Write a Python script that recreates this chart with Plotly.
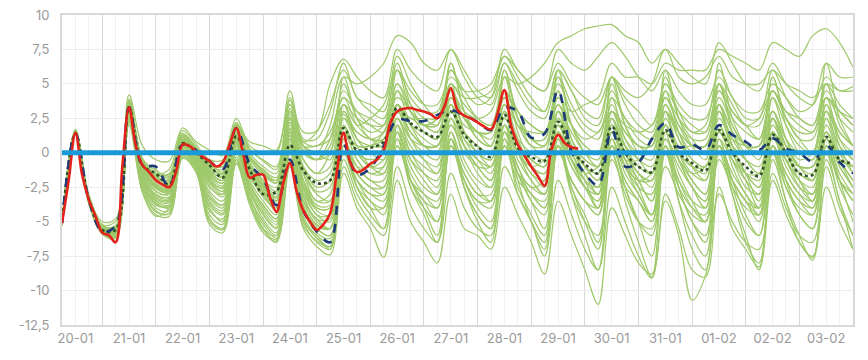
import plotly.graph_objects as go
import pandas as pd

START = "2025-01-20 06:00"
END = "2025-02-04 00:00"

# ---------------- data ----------------
# red (3-hourly, from 20-01 06:00)
red = [-5.1, -2.0, 1.45, -1.6, -3.4, -4.6, -5.8, -6.0, -6.5, -1.0,
       3.3, 0.5, -0.9, -1.4, -2.0, -2.3, -2.5, -1.4, 0.6, 0.5,
       0.1, -0.3, -0.6, -1.0, -0.7, 0.6, 1.8, 0.0, -1.8, -1.6,
       -1.6, -3.2, -4.3, -2.2, -0.75, -2.8, -4.2, -5.0, -5.6, -5.2,
       -4.4, -1.4, 1.45, -0.7, -1.4, -1.2, -0.8, -0.5, 0.2, 2.2,
       3.0, 3.2, 3.25, 3.1, 3.0, 2.8, 2.5, 3.3, 4.7, 3.1,
       2.7, 2.5, 2.2, 1.9, 1.7, 2.9, 4.55, 2.0, 0.6, -0.2,
       -1.0, -1.7, -2.4, 0.2, 1.3, 0.7, 0.4, 0.3]

# navy dashed (6-hourly)
navy = [-5.1, 1.4, -3.4, -5.7, -5.3, 3.3, -0.9, -1.0, -2.5, 0.6,
        0.2, -0.6, -1.2, 1.8, -0.8, -1.9, -3.8, -0.5, -4.2, -5.7,
        -6.5, 0.6, -1.6, -1.1, 0.5, 2.4, 2.3, 2.3, 2.75, 3.1,
        2.7, 2.25, 1.65, 3.25, 3.0, 1.1, 1.4, 4.55, 0.1, -1.5,
        -2.35, 1.65, -1.0, -0.7, 1.0, 2.15, 0.4, 0.6, 0.2, 2.0,
        1.3, 0.8, 0.2, 1.05, 0.3, 0.0, -0.65, 0.55, -0.7, -1.5]

# dark green dotted (6-hourly)
dotted = [-5.1, 1.4, -3.4, -5.6, -5.6, 3.3, -0.9, -1.5, -2.3, 0.7,
          0.0, -0.9, -1.8, 1.2, -1.2, -3.0, -2.8, 0.55, -1.3, -2.2,
          -2.0, 1.8, 0.2, 0.35, 0.8, 3.25, 2.15, 1.5, 1.15, 3.0,
          1.3, 0.45, -0.3, 2.75, 0.35, -0.3, -0.6, 2.25, 0.2, -0.8,
          -1.5, 1.9, 0.0, -1.0, -1.4, 1.65, 0.0, -0.75, -1.3, 1.65,
          0.0, -1.0, -1.7, 1.3, 0.0, -1.5, -1.6, 1.15, -0.5, -0.75]

# baseline
zero_line = [0, 0]

# ensemble members (6-hourly)
m01 = [-5.2,1.5,-3.5,-5.8, -6.1,2.2,-2.8,-4.5, -4.6,-0.4,-1.4,-5.2, -5.8,-0.8,-3.8,-5.8, -6.4,-1.0,-5.5,-6.8, -7.4,-1.5,-4.0,-5.5, -7.6,-2.0,-5.0,-6.5, -8.0,-3.0,-5.5,-6.0, -7.0,-2.5,-4.5,-6.5, -8.8,-3.5,-6.0,-8.5, -11.0,-4.0,-6.0,-8.0, -8.8,-3.0,-5.5,-8.5, -9.0,-2.5,-5.5,-7.0, -8.3,-2.0,-4.5,-6.5, -7.6,-2.5,-5.0,-7.0]
m02 = [-5.1,1.4,-3.6,-5.6, -5.9,2.6,-2.5,-4.2, -4.4,-0.2,-1.2,-4.8, -5.5,-0.3,-3.2,-5.0, -6.0,0.2,-4.8,-6.2, -6.8,-1.0,-3.5,-5.0, -6.0,-1.0,-3.8,-5.5, -6.5,-1.5,-4.0,-5.5, -6.0,-1.0,-3.0,-5.0, -7.5,-2.0,-4.5,-7.0, -8.5,-2.5,-5.0,-7.5, -9.1,-3.5,-6.0,-10.7, -8.9,-3.0,-5.0,-6.5, -7.0,-1.5,-4.0,-6.0, -6.5,-1.0,-4.0,-6.0]
m03 = [-5.2,1.6,-3.4,-5.5, -5.7,3.0,-2.0,-3.5, -3.8,0.2,-0.8,-4.2, -4.8,0.5,-2.8,-4.5, -5.5,1.0,-4.2,-5.8, -6.2,0.5,-2.5,-4.0, -4.0,1.0,-2.0,-3.5, -4.0,0.5,-2.0,-3.5, -3.5,1.0,-1.5,-3.0, -4.0,0.5,-2.0,-3.5, -4.5,0.5,-2.0,-3.5, -5.0,0.0,-2.5,-4.0, -4.5,0.5,-2.0,-3.5, -4.0,0.5,-1.5,-3.0, -3.5,1.0,-1.5,-3.0]
m04 = [-5.2,1.5,-3.5,-5.4, -5.6,3.4,-1.0,-2.2, -2.6,0.7,-0.3,-1.8, -2.4,1.0,-1.2,-2.5, -3.5,2.0,-1.5,-3.5, -3.0,2.0,0.0,-0.5, 0.0,3.0,1.5,0.5, 0.5,3.5,1.0,0.0, -1.0,3.0,0.5,-0.5, -1.0,2.5,0.0,-1.5, -2.5,2.0,0.0,-1.5, -2.0,2.0,0.0,-1.0, -1.5,2.0,0.0,-1.5, -2.0,1.5,0.0,-1.5, -2.0,1.5,-0.5,-1.0]
m05 = [-5.1,1.6,-3.2,-5.2, -5.0,3.8,-0.5,-1.5, -1.8,1.2,0.2,-1.0, -1.5,1.8,-0.5,-1.5, -2.0,3.0,0.5,0.0, 2.0,5.5,5.0,5.5, 6.5,8.5,8.0,6.5, 6.0,7.5,6.0,4.5, 4.0,6.5,5.0,3.5, 3.0,6.0,4.5,3.0, 2.5,5.5,4.0,3.0, 2.0,5.0,3.5,2.5, 2.5,5.0,3.5,2.0, 2.0,4.5,3.0,2.0, 1.5,4.0,3.0,2.0]
m06 = [-5.2,1.5,-3.4,-5.3, -5.3,3.6,-0.8,-1.8, -2.0,1.0,0.0,-1.2, -1.8,1.6,-0.2,-1.2, -1.8,2.8,0.5,0.5, 1.0,4.0,3.0,2.5, 2.0,5.0,3.5,2.5, 2.0,4.5,3.0,2.5, 3.0,5.5,5.0,5.5, 6.5,8.0,8.5,9.0, 9.2,9.3,8.5,8.0, 6.5,7.5,5.5,5.0, 5.5,7.0,5.5,5.0, 5.0,6.0,5.0,4.5, 4.0,5.0,4.5,4.5]
m07 = [-5.2,1.4,-3.6,-5.5, -5.5,3.2,-1.2,-2.5, -2.8,0.5,-0.5,-2.0, -2.5,0.8,-1.5,-2.8, -3.5,1.5,-2.0,-3.5, -3.5,1.5,0.5,0.5, 1.0,4.5,3.0,2.0, 1.5,4.0,2.5,1.0, 0.5,3.5,2.0,1.5, 1.5,4.0,3.0,3.5, 4.0,6.5,5.5,5.5, 5.0,6.5,6.0,6.0, 6.0,7.5,7.0,6.5, 6.0,8.0,7.5,7.0, 8.5,9.0,8.0,6.2]
m08 = [-5.0,1.7,-3.0,-5.0, -4.8,4.2,0.5,-0.5, -0.6,1.8,0.8,0.2, -0.2,2.5,0.5,0.0, 0.0,4.5,1.0,1.0, 3.0,6.5,4.0,3.5, 3.0,7.0,5.0,3.5, 2.5,6.0,4.0,2.5, 2.0,5.5,3.0,2.0, 1.5,5.0,3.0,1.5, 1.0,4.5,2.5,1.5, 1.0,4.5,3.0,2.0, 1.5,5.0,3.0,2.0, 1.0,4.5,2.5,1.5, 1.5,4.5,3.0,2.0]
m09 = [-5.3,1.3,-3.7,-5.9, -6.2,2.0,-2.9,-4.6, -4.0,0.5,-1.0,-4.0, -5.0,0.2,-3.0,-5.5, -6.5,0.5,-5.0,-6.0, -7.0,1.0,-2.5,-4.0, -5.5,2.0,-2.0,-4.0, -6.0,1.5,-2.0,-4.0, -5.0,2.0,-1.5,-3.5, -5.5,1.5,-2.5,-4.5, -6.5,1.0,-2.5,-5.0, -6.0,1.5,-2.5,-5.0, -6.5,1.0,-2.5,-5.0, -6.0,1.5,-2.0,-4.5, -5.5,1.0,-2.0,-5.0]
m10 = [-5.2,1.5,-3.5,-5.6, -5.8,3.0,-1.5,-3.0, -3.2,0.4,-0.6,-2.8, -3.5,0.8,-2.0,-3.5, -4.5,1.5,-2.5,-4.5, -4.5,2.5,0.5,-1.0, -1.5,3.5,1.0,-0.5, -1.5,3.5,0.5,-1.0, -2.0,3.0,0.0,-1.5, -2.5,3.0,0.0,-2.0, -4.0,2.5,-0.5,-2.5, -4.5,3.0,-0.5,-2.5, -4.0,3.0,0.0,-2.0, -4.0,2.5,-0.5,-2.0, -3.5,2.5,-0.5,-2.5]
m11 = [-5.1,1.5,-3.3,-5.3, -5.4,3.8,-0.6,-1.6, -1.5,1.4,0.4,-0.8, -1.0,2.2,0.2,-0.5, -1.0,4.0,0.5,-0.5, 0.5,5.0,2.5,1.5, 2.0,6.5,3.5,2.0, 2.5,6.5,3.0,1.5, 1.5,6.0,2.5,1.0, 1.0,5.5,2.0,0.5, 0.0,5.0,2.0,0.5, 0.5,5.5,2.5,1.0, 0.0,5.0,2.0,0.5, 0.5,5.5,2.5,1.0, 0.0,5.0,2.0,0.5]
m12 = [-5.2,1.6,-3.5,-5.5, -5.5,3.2,-1.2,-2.8, -3.0,0.6,-0.4,-2.2, -3.0,1.2,-1.6,-3.2, -4.0,1.8,-2.8,-4.5, -5.0,1.0,-1.5,-2.5, -3.0,2.0,-0.5,-2.0, -3.0,1.5,-1.0,-2.5, -3.5,0.5,-2.0,-3.0, -4.0,0.0,-2.0,-3.5, -4.5,-0.5,-2.5,-3.5, -5.0,-1.0,-3.0,-4.5, -5.0,-0.5,-2.5,-4.0, -4.5,0.0,-2.0,-3.5, -4.0,0.0,-2.0,-3.0]
m13 = [-5.2,1.4,-3.5,-5.4, -5.7,3.3,-1.0,-2.0, -2.2,0.9,-0.1,-1.5, -2.0,1.4,-0.8,-2.0, -2.5,2.5,-0.5,-1.5, 0.0,3.5,2.0,2.5, 3.5,6.0,4.5,3.5, 3.5,5.5,4.5,4.5, 5.0,7.0,6.0,5.0, 4.5,6.5,5.0,4.0, 3.5,5.5,4.5,4.0, 5.0,7.5,6.5,5.5, 5.0,8.0,6.5,5.0, 4.5,6.5,5.0,4.0, 3.5,5.5,4.5,4.8]
m14 = [-5.3,1.4,-3.6,-5.7, -6.0,2.5,-2.2,-3.8, -3.8,0.0,-1.0,-3.8, -4.5,0.0,-2.8,-4.8, -5.8,0.8,-4.0,-5.5, -6.0,0.0,-2.0,-3.0, -3.5,0.5,-2.0,-3.0, -3.5,0.5,-1.5,-3.0, -3.0,0.5,-1.5,-2.5, -3.0,1.0,-1.0,-2.5, -3.0,1.5,-0.5,-2.0, -3.5,1.0,-1.0,-2.5, -3.5,1.5,-0.5,-2.0, -3.0,1.5,-0.5,-2.5, -3.5,1.0,-1.0,-2.5]
m15 = [-5.2,1.5,-3.4,-5.5, -5.6,3.5,-0.8,-2.5, -2.8,0.8,-0.2,-2.0, -2.8,1.5,-1.0,-2.8, -3.8,2.5,-1.5,-3.0, -3.5,3.5,1.0,0.0, -0.5,4.5,2.0,0.5, 0.0,5.0,1.5,0.0, -0.5,5.5,1.5,-0.5, -1.0,4.5,1.0,-1.0, -2.0,4.0,1.0,-0.5, -1.5,4.5,1.5,-0.5, -1.0,5.0,1.5,-0.5, -1.5,4.0,1.0,-1.0, -1.5,4.0,1.0,-0.5]
m16 = [-5.2,1.5,-3.5,-5.6, -5.9,2.8,-1.8,-3.3, -3.5,0.3,-0.8,-3.3, -4.0,0.5,-2.3,-4.0, -5.0,1.2,-3.5,-5.2, -5.5,0.5,-1.0,-2.0, -2.0,2.5,0.0,-1.5, -2.5,2.5,-0.5,-2.0, -2.5,2.0,-0.5,-2.0, -3.0,1.5,-1.0,-2.5, -3.5,1.5,-1.0,-3.0, -4.5,0.5,-2.0,-4.0, -5.0,0.5,-2.0,-3.5, -5.0,0.0,-2.5,-4.0, -4.5,0.5,-2.0,-3.5]
m17 = [-5.1,1.6,-3.3,-5.3, -5.3,3.7,-0.6,-1.5, -1.2,1.6,0.6,-0.5, -0.5,2.0,0.8,0.5, 0.2,3.5,1.5,1.6, 5.0,6.8,5.5,4.5, 4.0,7.5,6.0,5.0, 4.5,7.5,5.5,4.0, 3.5,6.5,4.5,3.0, 2.5,5.5,3.5,2.0, 1.5,4.0,2.5,1.0, 0.5,4.0,2.0,0.5, 0.5,3.5,1.5,0.0, 0.0,3.0,1.0,-0.5, 0.0,3.0,1.5,0.5]
m18 = [-5.2,1.5,-3.5,-5.5, -5.5,3.3,-0.9,-1.2, -2.4,0.6,0.0,-0.8, -1.4,1.7,-0.8,-2.0, -3.5,1.0,-3.5,-4.8, -5.5,1.0,-1.0,-1.0, 0.5,3.0,2.5,2.0, 2.5,4.0,2.5,1.5, 1.5,4.0,3.0,1.0, 1.0,4.5,0.5,-1.0, -2.0,2.0,-0.5,-0.5, 1.0,3.0,0.5,0.5, 0.5,3.0,1.0,0.5, 0.5,2.5,0.5,0.0, -0.5,1.5,-0.5,-1.0]
m19 = [-5.3,1.4,-3.6,-5.6, -6.0,2.7,-2.0,-3.6, -4.0,-0.2,-1.1,-4.5, -5.2,-0.5,-3.3,-5.2, -6.2,0.3,-4.6,-6.0, -6.5,-0.5,-3.0,-4.5, -5.5,1.5,-2.5,-4.5, -6.5,1.0,-2.5,-5.0, -6.5,1.5,-2.0,-5.0, -7.0,1.0,-3.0,-6.0, -8.5,0.0,-3.5,-6.5, -9.0,0.5,-3.5,-7.0, -8.5,0.5,-3.0,-6.5, -8.0,0.0,-3.5,-6.5, -7.5,0.0,-3.5,-6.0]
m20 = [-5.2,1.5,-3.4,-5.4, -5.5,3.4,-0.7,-1.9, -1.9,1.1,0.1,-1.3, -1.7,1.9,-0.4,-1.6, -2.2,3.2,0.0,-0.5, 1.0,4.5,3.0,2.0, 1.5,5.0,3.0,2.0, 2.0,5.0,4.0,4.0, 4.5,7.0,5.5,4.0, 3.0,6.0,4.5,2.5, 2.0,5.5,3.5,2.0, 1.5,5.0,3.0,1.5, 2.0,6.0,4.0,2.5, 2.5,6.0,4.0,2.5, 2.0,5.0,3.5,2.5]
m21 = [-5.2,1.5,-3.5,-5.7, -6.0,2.4,-2.4,-4.0, -4.2,-0.3,-1.3,-4.8, -5.5,-0.5,-3.5,-5.5, -6.0,0.0,-5.0,-6.5, -7.0,0.0,-2.0,-3.0, -3.0,1.0,-1.5,-3.0, -4.0,1.0,-2.0,-3.5, -4.0,1.5,-1.0,-3.0, -3.5,2.0,-0.5,-2.5, -4.0,1.0,-1.5,-3.0, -4.5,0.0,-2.0,-3.5, -4.0,0.5,-1.5,-3.0, -4.5,0.5,-1.5,-3.0, -4.0,0.0,-2.0,-3.5]
m22 = [-5.2,1.5,-3.5,-5.5, -5.6,3.2,-1.1,-2.3, -2.7,0.7,-0.2,-1.9, -2.6,1.1,-1.3,-2.6, -3.8,1.7,-2.0,-4.0, -4.0,1.5,0.5,0.5, 1.5,4.0,3.0,2.0, 2.0,4.5,2.5,1.5, 0.5,4.0,2.0,0.5, 0.5,3.5,1.0,-0.5, -1.0,3.0,1.0,0.0, 0.0,3.0,1.5,0.5, 0.5,3.5,1.5,0.5, 0.0,3.0,1.0,0.0, 0.0,3.0,1.0,0.0]
m23 = [-5.3,1.3,-3.7,-5.8, -6.1,2.3,-2.6,-4.3, -4.4,-0.4,-1.4,-5.0, -5.6,-0.7,-3.6,-5.6, -6.3,-0.5,-5.3,-6.4, -6.8,0.0,-2.5,-3.5, -4.5,0.5,-2.0,-3.5, -5.0,0.5,-2.5,-4.5, -5.5,0.5,-2.5,-4.5, -6.0,0.5,-2.5,-5.0, -7.0,0.5,-2.5,-5.0, -7.5,0.0,-3.5,-6.0, -7.5,0.0,-3.0,-6.0, -8.5,-0.5,-3.5,-6.0, -7.8,-0.5,-3.5,-7.0]
m24 = [-5.1,1.6,-3.3,-5.3, -5.4,3.9,-0.4,-1.3, -1.6,1.3,0.3,-0.9, -1.2,2.1,0.0,-1.0, -1.5,3.8,0.5,0.0, -0.5,5.5,2.5,1.0, 1.0,6.0,3.0,1.5, 1.0,6.5,3.0,1.0, 0.5,6.0,2.5,0.5, 0.0,6.0,2.0,0.0, -1.0,5.5,2.0,0.0, -0.5,6.0,2.5,0.5, -0.5,6.5,2.5,0.5, -0.5,5.5,2.0,0.0, -0.5,6.5,2.5,0.5]
m25 = [-5.2,1.5,-3.5,-5.4, -5.4,3.5,-0.9,-2.0, -2.4,0.9,0.0,-1.4, -2.0,1.5,-0.9,-2.2, -3.0,2.2,-1.0,-2.0, -1.5,2.5,1.5,1.0, 1.0,3.5,2.0,1.0, 0.5,3.0,1.5,0.5, 0.0,2.5,1.0,0.0, -0.5,2.0,0.5,-0.5, -1.0,1.5,0.5,-0.5, -1.0,1.5,0.0,-1.0, -1.0,1.5,0.5,-0.5, -1.0,1.0,0.0,-1.0, -1.0,1.0,0.0,-1.0]
m26 = [-5.2,1.5,-3.4,-5.4, -5.5,3.5,-0.8,-1.8, -2.1,1.0,0.1,-1.1, -1.5,1.7,-0.3,-1.3, -2.0,3.0,0.8,1.5, 3.5,6.0,4.0,3.0, 2.5,6.0,4.0,3.0, 3.0,6.0,4.5,3.5, 4.0,7.5,6.0,5.0, 4.5,7.5,6.5,6.0, 7.0,8.0,7.0,5.5, 4.5,6.0,4.5,3.5, 3.5,5.5,4.0,3.0, 3.0,5.0,4.0,3.0, 3.5,6.5,5.5,5.5]
m27 = [-5.2,1.4,-3.6,-5.6, -5.7,3.0,-1.6,-3.2, -3.4,0.2,-0.9,-3.5, -4.2,0.3,-2.5,-4.2, -5.2,1.0,-3.8,-5.5, -6.0,0.5,-2.0,-3.5, -4.0,1.0,-2.5,-4.0, -5.0,1.0,-2.5,-4.5, -5.5,1.0,-3.0,-5.0, -6.5,0.5,-3.0,-5.0, -6.0,0.0,-3.0,-5.0, -5.5,0.5,-2.5,-5.0, -6.0,1.0,-2.0,-4.5, -6.0,0.5,-2.5,-4.5, -5.5,0.5,-2.5,-4.5]
m28 = [-5.2,1.5,-3.5,-5.5, -5.7,3.1,-1.3,-2.6, -2.9,0.5,-0.5,-2.4, -3.2,0.9,-1.8,-3.0, -4.2,1.5,-2.3,-4.0, -4.0,1.8,0.0,-1.0, -1.0,3.0,1.0,0.0, -0.5,3.5,1.0,-0.5, -1.5,3.0,0.5,-1.5, -2.0,3.0,0.5,-1.5, -3.0,2.5,0.0,-2.0, -3.5,2.5,0.0,-2.0, -3.0,3.5,0.5,-1.5, -3.5,2.5,0.0,-2.0, -3.0,3.0,0.0,-1.5]
m29 = [-5.2,1.5,-3.5,-5.5, -5.6,3.3,-1.2,-2.4, -2.7,0.8,-0.1,-1.6, -2.2,1.3,-1.0,-2.3, -3.2,2.2,-1.2,-2.8, -2.5,2.8,1.0,0.5, 0.5,3.5,2.0,1.5, 1.0,3.0,1.5,0.5, 0.0,2.0,0.5,-0.5, -1.0,2.5,0.5,-1.0, -1.5,2.5,0.5,-1.0, -1.5,3.0,1.0,-0.5, -1.0,3.0,1.0,-0.5, -1.5,2.5,0.5,-1.0, -1.0,2.5,0.5,-0.5]
m30 = [-5.2,1.5,-3.5,-5.5, -5.8,2.9,-1.7,-3.1, -3.3,0.4,-0.7,-3.0, -3.8,0.7,-2.2,-3.8, -4.8,1.3,-3.0,-4.8, -4.8,1.5,-0.5,-1.5, -1.5,1.5,-0.5,-1.5, -2.0,2.0,0.0,-1.0, -1.0,2.5,0.5,-1.0, -1.5,1.5,-0.5,-2.0, -2.5,1.0,-1.0,-2.0, -2.0,2.0,0.0,-1.5, -2.0,2.5,0.5,-1.5, -2.5,2.0,0.0,-1.5, -2.0,2.0,-0.5,-2.0]
m31 = [-5.1,1.5,-3.4,-5.4, -5.5,3.6,-0.7,-1.7, -2.0,1.1,0.2,-1.0, -1.6,1.8,-0.3,-1.4, -2.2,3.0,0.2,-0.5, 0.0,3.5,2.5,2.0, 2.0,4.5,3.0,2.0, 1.5,4.5,2.5,1.5, 1.0,4.0,2.0,1.0, 0.5,4.0,2.0,0.5, 0.0,3.5,1.5,0.5, 0.0,3.5,1.5,0.0, 0.0,4.0,2.0,0.5, 0.5,4.0,2.0,0.5, 0.0,3.5,1.5,0.5]
m32 = [-5.2,1.4,-3.5,-5.6, -5.7,3.1,-1.4,-2.8, -3.0,0.5,-0.5,-2.5, -3.0,1.0,-1.7,-3.0, -4.0,1.5,-2.5,-4.2, -4.5,1.0,-1.0,-2.0, -2.5,2.0,0.0,-1.0, -1.5,2.5,0.5,-1.0, -2.0,2.0,0.0,-2.0, -3.0,1.5,-0.5,-2.0, -3.0,2.0,0.0,-1.5, -2.5,2.0,-0.5,-2.0, -3.0,1.5,-0.5,-2.5, -3.0,1.5,-0.5,-2.0, -2.5,1.5,-0.5,-2.0]
m33 = [-5.2,1.5,-3.4,-5.4, -5.5,3.5,-0.9,-2.0, -2.3,0.9,0.0,-1.4, -2.0,1.6,-0.7,-2.0, -2.8,2.6,-0.5,-1.5, -1.0,3.0,1.5,1.0, 1.5,3.5,2.5,2.5, 2.5,5.0,3.5,2.5, 2.0,4.5,3.0,2.0, 1.5,3.5,2.0,1.0, 1.5,3.0,2.0,1.5, 2.0,4.0,2.5,1.5, 1.5,4.5,3.0,2.0, 2.5,4.5,3.0,2.5, 2.0,4.0,3.0,2.5]
m34 = [-5.2,1.5,-3.5,-5.5, -5.6,3.2,-1.1,-2.5, -2.8,0.6,-0.3,-2.1, -2.8,1.2,-1.4,-2.8, -3.8,1.8,-2.0,-3.8, -3.8,2.0,0.0,-1.0, -0.5,2.5,0.5,-0.5, -1.0,3.0,0.5,-1.5, -2.5,1.5,-1.0,-2.5, -2.0,2.0,-0.5,-2.5, -3.5,1.5,-1.0,-2.5, -3.0,2.0,-0.5,-2.5, -3.5,2.0,-1.0,-3.0, -4.0,1.5,-1.0,-2.5, -3.0,1.5,-1.0,-2.5]
m35 = [-5.1,1.6,-3.3,-5.3, -5.3,3.7,-0.5,-1.5, -1.7,1.3,0.4,-0.7, -1.0,2.0,0.3,-0.6, -1.2,3.5,0.8,0.5, 1.5,4.0,2.0,1.0, 0.5,3.0,1.5,0.5, 0.5,3.5,2.0,1.5, 1.5,4.5,2.5,1.0, 0.5,3.0,1.5,0.0, -0.5,3.0,1.5,0.5, 0.5,4.0,2.0,1.0, 1.0,4.5,2.5,1.5, 1.0,4.5,2.5,1.0, 1.0,4.0,2.5,1.5]
m36 = [-5.2,1.5,-3.5,-5.6, -5.8,2.9,-1.6,-3.4, -3.6,0.2,-0.9,-3.2, -3.8,0.6,-2.3,-3.8, -4.8,1.0,-3.2,-5.0, -5.5,1.5,-0.5,-1.5, -1.0,3.5,1.5,0.5, 0.0,4.0,1.5,0.0, -0.5,3.5,1.0,-1.0, -1.5,3.0,0.5,-1.5, -2.5,3.0,0.5,-1.5, -2.0,3.5,1.0,-1.0, -2.0,3.5,0.5,-1.5, -2.5,3.0,0.5,-1.0, -2.0,3.5,0.5,-1.5]
m37 = [-5.2,1.5,-3.5,-5.5, -5.6,3.3,-1.0,-2.4, -2.6,0.8,-0.2,-1.7, -2.2,1.3,-1.0,-2.4, -3.3,2.4,-1.0,-2.5, -2.0,3.0,1.0,0.0, 0.0,2.5,1.0,0.5, 0.5,2.0,0.5,-0.5, -1.0,1.5,0.0,-1.0, -0.5,1.0,-0.5,-1.5, -1.0,0.5,-1.0,-2.0, -1.5,1.0,-0.5,-1.5, -1.0,1.0,-0.5,-1.5, -1.5,1.0,-0.5,-1.0, -1.0,1.0,-0.5,-1.0]
m38 = [-5.3,1.4,-3.6,-5.7, -6.0,2.6,-2.1,-3.7, -3.9,0.0,-1.0,-3.6, -4.4,0.1,-2.7,-4.4, -5.4,0.6,-3.9,-5.3, -5.5,0.5,-1.5,-2.5, -2.5,1.5,-1.0,-2.5, -3.0,1.0,-1.5,-3.0, -3.5,1.0,-1.5,-3.5, -4.5,0.5,-2.0,-3.5, -4.0,0.5,-2.0,-3.5, -4.5,1.0,-1.5,-3.5, -5.0,0.5,-2.0,-3.5, -4.5,0.5,-2.0,-3.5, -4.5,0.5,-2.0,-3.5]

members = [m01, m02, m03, m04, m05, m06, m07, m08, m09, m10, m11, m12, m13,
           m14, m15, m16, m17, m18, m19, m20, m21, m22, m23, m24, m25, m26,
           m27, m28, m29, m30, m31, m32, m33, m34, m35, m36, m37, m38]

y_tickvals = [10, 7.5, 5, 2.5, 0, -2.5, -5, -7.5, -10, -12.5]
y_ticktext = ["10", "7,5", "5", "2,5", "0", "-2,5", "-5", "-7,5", "-10", "-12,5"]

# ---------------- figure ----------------
def times(values, step):
    return pd.date_range(START, periods=len(values), freq=step)

fig = go.Figure()
for m in members:
    fig.add_trace(go.Scatter(x=times(m, "6h"), y=m, mode="lines",
                             line=dict(color="#9fc96b", width=1.2, shape="spline", smoothing=1.0),
                             hoverinfo="skip", showlegend=False))

fig.add_trace(go.Scatter(x=times(dotted, "6h"), y=dotted, mode="lines",
                         line=dict(color="#34522a", width=2.6, dash="dot", shape="spline", smoothing=1.0),
                         showlegend=False))
fig.add_trace(go.Scatter(x=times(navy, "6h"), y=navy, mode="lines",
                         line=dict(color="#1c3a78", width=2.6, dash="dash", shape="spline", smoothing=1.0),
                         showlegend=False))
fig.add_trace(go.Scatter(x=times(red, "3h"), y=red, mode="lines",
                         line=dict(color="#e3231b", width=2.6, shape="spline", smoothing=1.0),
                         showlegend=False))
fig.add_trace(go.Scatter(x=[START, END], y=zero_line, mode="lines",
                         line=dict(color="#1a9ad8", width=5),
                         showlegend=False, cliponaxis=False))

# the page body adds an 8 px margin, so the figure is sized to fit inside the window
fig.update_layout(
    width=852, height=344,
    margin=dict(l=54, r=7, t=7, b=27, autoexpand=False),
    paper_bgcolor="white", plot_bgcolor="white",
    font=dict(family="Inter, Open Sans, sans-serif", size=13, color="#9a9a9a"),
    showlegend=False,
)
fig.update_xaxes(
    type="date", range=[START, END], automargin=False,
    tick0="2025-01-20", dtick=86400000, tickformat="%d-%m", ticklabelmode="period",
    showgrid=True, gridcolor="#d9d9d9", gridwidth=1,
    minor=dict(dtick=6 * 3600000, showgrid=True, gridcolor="#f0f0f0", gridwidth=1),
    showline=True, linecolor="#d9d9d9", linewidth=2, mirror=True,
    ticks="", tickfont=dict(size=13, color="#9a9a9a"), ticklabeloverflow="allow",
    zeroline=False,
)
fig.update_yaxes(
    range=[-12.5, 10], tickvals=y_tickvals, ticktext=y_ticktext, automargin=False,
    showgrid=True, gridcolor="#ededed", gridwidth=1,
    showline=True, linecolor="#d9d9d9", linewidth=2, mirror=True,
    ticks="", ticklabelstandoff=8, tickfont=dict(size=13, color="#9a9a9a"),
    ticklabeloverflow="allow",
    zeroline=False,
)

fig.write_html("out.html")
